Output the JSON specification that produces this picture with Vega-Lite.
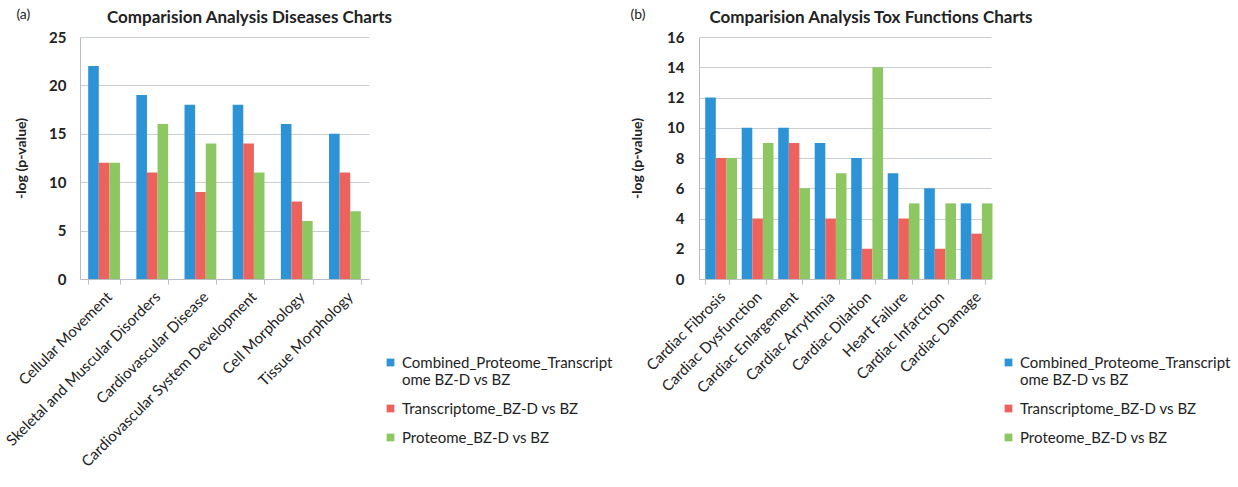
{
  "$schema": "https://vega.github.io/schema/vega-lite/v6.json",
  "background": "white",
  "padding": {"left": 3, "top": 8, "right": 3, "bottom": 0},
  "config": {
    "font": "Lato",
    "view": {"stroke": null},
    "concat": {"spacing": 17},
    "axis": {"labelFont": "Lato", "titleFont": "Lato", "labelColor": "#222222", "titleColor": "#222222"},
    "title": {"font": "Lato", "color": "#222222"}
  },
  "resolve": {"scale": {"color": "independent"}, "legend": {"color": "independent"}},
  "hconcat": [
    {
      "title": {"text": "(a)", "anchor": "start", "frame": "bounds", "fontSize": 14, "fontWeight": "normal", "offset": -13, "dx": 13},
      "vconcat": [
        {
          "title": {"text": "Comparision Analysis Diseases Charts", "fontSize": 17, "fontWeight": "bold", "offset": 3, "dx": 25},
          "width": 289,
          "height": 242,
          "data": {"values": [
            {"category": "Cellular Movement", "series": "Combined_Proteome_Transcriptome BZ-D vs BZ", "value": 22},
            {"category": "Cellular Movement", "series": "Transcriptome_BZ-D vs BZ", "value": 12},
            {"category": "Cellular Movement", "series": "Proteome_BZ-D vs BZ", "value": 12},
            {"category": "Skeletal and Muscular Disorders", "series": "Combined_Proteome_Transcriptome BZ-D vs BZ", "value": 19},
            {"category": "Skeletal and Muscular Disorders", "series": "Transcriptome_BZ-D vs BZ", "value": 11},
            {"category": "Skeletal and Muscular Disorders", "series": "Proteome_BZ-D vs BZ", "value": 16},
            {"category": "Cardiovascular Disease", "series": "Combined_Proteome_Transcriptome BZ-D vs BZ", "value": 18},
            {"category": "Cardiovascular Disease", "series": "Transcriptome_BZ-D vs BZ", "value": 9},
            {"category": "Cardiovascular Disease", "series": "Proteome_BZ-D vs BZ", "value": 14},
            {"category": "Cardiovascular System Development", "series": "Combined_Proteome_Transcriptome BZ-D vs BZ", "value": 18},
            {"category": "Cardiovascular System Development", "series": "Transcriptome_BZ-D vs BZ", "value": 14},
            {"category": "Cardiovascular System Development", "series": "Proteome_BZ-D vs BZ", "value": 11},
            {"category": "Cell Morphology", "series": "Combined_Proteome_Transcriptome BZ-D vs BZ", "value": 16},
            {"category": "Cell Morphology", "series": "Transcriptome_BZ-D vs BZ", "value": 8},
            {"category": "Cell Morphology", "series": "Proteome_BZ-D vs BZ", "value": 6},
            {"category": "Tissue Morphology", "series": "Combined_Proteome_Transcriptome BZ-D vs BZ", "value": 15},
            {"category": "Tissue Morphology", "series": "Transcriptome_BZ-D vs BZ", "value": 11},
            {"category": "Tissue Morphology", "series": "Proteome_BZ-D vs BZ", "value": 7}
          ]},
          "mark": {"type": "bar"},
          "encoding": {
            "x": {
              "field": "category", "type": "nominal", "sort": null,
              "scale": {"paddingInner": 0.34, "paddingOuter": 0.17},
              "axis": {"title": null, "labelAngle": -45, "labelFontSize": 15, "labelPadding": 5, "tickBand": "extent", "tickColor": "#B8BEC2", "tickSize": 5, "domainColor": "#B8BEC2", "labelLimit": 400}
            },
            "xOffset": {"field": "series", "type": "nominal", "sort": ["Combined_Proteome_Transcriptome BZ-D vs BZ", "Transcriptome_BZ-D vs BZ", "Proteome_BZ-D vs BZ"], "scale": {"paddingInner": 0, "paddingOuter": 0}},
            "y": {
              "field": "value", "type": "quantitative",
              "scale": {"domain": [0, 25]},
              "axis": {"title": "-log (p-value)", "titleFontSize": 14, "titleFontWeight": "bold", "titlePadding": 20, "values": [0, 5, 10, 15, 20, 25], "labelFontSize": 15, "labelFontWeight": "bold", "labelPadding": 14, "ticks": false, "gridColor": "#C9CED2", "domainColor": "#B8BEC2"}
            },
            "color": {
              "field": "series", "type": "nominal",
              "scale": {"domain": ["Combined_Proteome_Transcriptome BZ-D vs BZ", "Transcriptome_BZ-D vs BZ", "Proteome_BZ-D vs BZ"], "range": ["#2B93D6", "#EE625D", "#8DC762"]},
              "legend": {
                "title": null, "orient": "none", "legendX": 303, "legendY": 318,
                "symbolType": "square", "symbolSize": 60, "symbolStrokeWidth": 0,
                "labelFontSize": 15, "labelColor": "#222222", "labelLimit": 400, "rowPadding": 13, "labelOffset": 4,
                "labelExpr": "datum.label == 'Combined_Proteome_Transcriptome BZ-D vs BZ' ? ['Combined_Proteome_Transcript', 'ome BZ-D vs BZ'] : datum.label"
              }
            }
          }
        }
      ]
    },
    {
      "title": {"text": "(b)", "anchor": "start", "frame": "bounds", "fontSize": 14, "fontWeight": "normal", "offset": -13},
      "vconcat": [
        {
          "title": {"text": "Comparision Analysis Tox Functions Charts", "fontSize": 17, "fontWeight": "bold", "offset": 3, "dx": 26},
          "width": 292,
          "height": 242,
          "data": {"values": [
            {"category": "Cardiac Fibrosis", "series": "Combined_Proteome_Transcriptome BZ-D vs BZ", "value": 12},
            {"category": "Cardiac Fibrosis", "series": "Transcriptome_BZ-D vs BZ", "value": 8},
            {"category": "Cardiac Fibrosis", "series": "Proteome_BZ-D vs BZ", "value": 8},
            {"category": "Cardiac Dysfunction", "series": "Combined_Proteome_Transcriptome BZ-D vs BZ", "value": 10},
            {"category": "Cardiac Dysfunction", "series": "Transcriptome_BZ-D vs BZ", "value": 4},
            {"category": "Cardiac Dysfunction", "series": "Proteome_BZ-D vs BZ", "value": 9},
            {"category": "Cardiac Enlargement", "series": "Combined_Proteome_Transcriptome BZ-D vs BZ", "value": 10},
            {"category": "Cardiac Enlargement", "series": "Transcriptome_BZ-D vs BZ", "value": 9},
            {"category": "Cardiac Enlargement", "series": "Proteome_BZ-D vs BZ", "value": 6},
            {"category": "Cardiac Arrythmia", "series": "Combined_Proteome_Transcriptome BZ-D vs BZ", "value": 9},
            {"category": "Cardiac Arrythmia", "series": "Transcriptome_BZ-D vs BZ", "value": 4},
            {"category": "Cardiac Arrythmia", "series": "Proteome_BZ-D vs BZ", "value": 7},
            {"category": "Cardiac Dilation", "series": "Combined_Proteome_Transcriptome BZ-D vs BZ", "value": 8},
            {"category": "Cardiac Dilation", "series": "Transcriptome_BZ-D vs BZ", "value": 2},
            {"category": "Cardiac Dilation", "series": "Proteome_BZ-D vs BZ", "value": 14},
            {"category": "Heart Failure", "series": "Combined_Proteome_Transcriptome BZ-D vs BZ", "value": 7},
            {"category": "Heart Failure", "series": "Transcriptome_BZ-D vs BZ", "value": 4},
            {"category": "Heart Failure", "series": "Proteome_BZ-D vs BZ", "value": 5},
            {"category": "Cardiac Infarction", "series": "Combined_Proteome_Transcriptome BZ-D vs BZ", "value": 6},
            {"category": "Cardiac Infarction", "series": "Transcriptome_BZ-D vs BZ", "value": 2},
            {"category": "Cardiac Infarction", "series": "Proteome_BZ-D vs BZ", "value": 5},
            {"category": "Cardiac Damage", "series": "Combined_Proteome_Transcriptome BZ-D vs BZ", "value": 5},
            {"category": "Cardiac Damage", "series": "Transcriptome_BZ-D vs BZ", "value": 3},
            {"category": "Cardiac Damage", "series": "Proteome_BZ-D vs BZ", "value": 5}
          ]},
          "mark": {"type": "bar"},
          "encoding": {
            "x": {
              "field": "category", "type": "nominal", "sort": null,
              "scale": {"paddingInner": 0.34, "paddingOuter": 0.17},
              "axis": {"title": null, "labelAngle": -45, "labelFontSize": 15, "labelPadding": 5, "tickBand": "extent", "tickColor": "#B8BEC2", "tickSize": 5, "domainColor": "#B8BEC2", "labelLimit": 400}
            },
            "xOffset": {"field": "series", "type": "nominal", "sort": ["Combined_Proteome_Transcriptome BZ-D vs BZ", "Transcriptome_BZ-D vs BZ", "Proteome_BZ-D vs BZ"], "scale": {"paddingInner": 0, "paddingOuter": 0}},
            "y": {
              "field": "value", "type": "quantitative",
              "scale": {"domain": [0, 16]},
              "axis": {"title": "-log (p-value)", "titleFontSize": 14, "titleFontWeight": "bold", "titlePadding": 22, "values": [0, 2, 4, 6, 8, 10, 12, 14, 16], "labelFontSize": 15, "labelFontWeight": "bold", "labelPadding": 15, "ticks": false, "gridColor": "#C9CED2", "domainColor": "#B8BEC2"}
            },
            "color": {
              "field": "series", "type": "nominal",
              "scale": {"domain": ["Combined_Proteome_Transcriptome BZ-D vs BZ", "Transcriptome_BZ-D vs BZ", "Proteome_BZ-D vs BZ"], "range": ["#2B93D6", "#EE625D", "#8DC762"]},
              "legend": {
                "title": null, "orient": "none", "legendX": 302, "legendY": 318,
                "symbolType": "square", "symbolSize": 60, "symbolStrokeWidth": 0,
                "labelFontSize": 15, "labelColor": "#222222", "labelLimit": 400, "rowPadding": 13, "labelOffset": 4,
                "labelExpr": "datum.label == 'Combined_Proteome_Transcriptome BZ-D vs BZ' ? ['Combined_Proteome_Transcript', 'ome BZ-D vs BZ'] : datum.label"
              }
            }
          }
        }
      ]
    }
  ]
}
